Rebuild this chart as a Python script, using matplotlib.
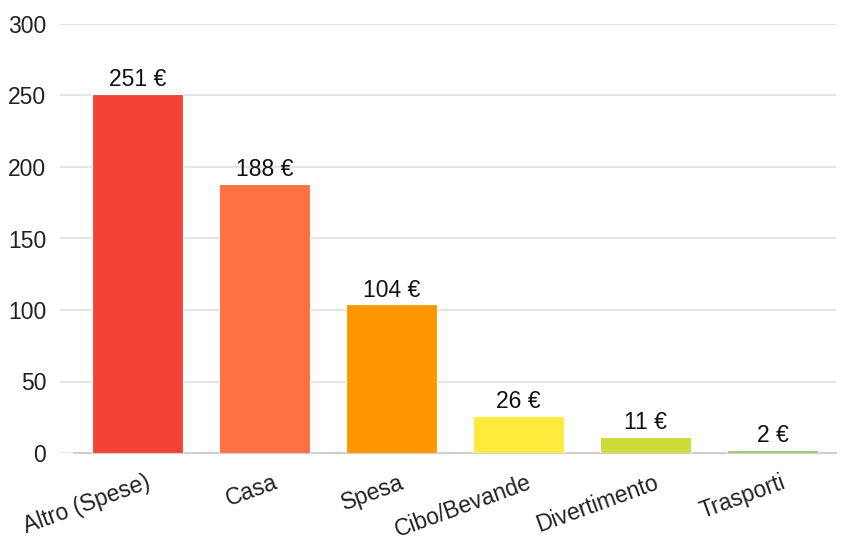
import matplotlib
matplotlib.use("Agg")
import matplotlib.pyplot as plt
from matplotlib.transforms import ScaledTranslation

categories = ["Altro (Spese)", "Casa", "Spesa", "Cibo/Bevande", "Divertimento", "Trasporti"]
values = [251, 188, 104, 26, 11, 2]
colors = ["#F44336", "#FF7043", "#FF9800", "#FFEB3B", "#CDDC39", "#9CCC65"]
yticks = [0, 50, 100, 150, 200, 250, 300]

plt.rcParams["font.family"] = ["Liberation Sans", "DejaVu Sans"]

fig = plt.figure(figsize=(8.43, 5.45), dpi=100)
ax = fig.add_axes([60 / 843, 1 - 453 / 545, 776 / 843, 429 / 545])

x = list(range(len(categories)))
ax.bar(x, values, width=0.72, color=colors, edgecolor="#ffffff", linewidth=0.8, zorder=3)

for xi, v in zip(x, values):
    ax.annotate(f"{v} €", (xi, v), xytext=(0, 2), textcoords="offset points",
                ha="center", va="bottom", fontsize=16.5, color="#111111", zorder=4)

ax.set_ylim(0, 300)
ax.set_xlim(-0.61, 5.5)
ax.set_yticks(yticks)
ax.yaxis.grid(True, color="#e3e3e3", linewidth=1.3, zorder=0)
ax.set_axisbelow(True)
for s in ["top", "right", "left"]:
    ax.spines[s].set_visible(False)
ax.spines["bottom"].set_color("#cccccc")
ax.spines["bottom"].set_linewidth(1.3)
ax.spines["bottom"].set_bounds(-0.5, 5.5)

ax.tick_params(axis="y", length=0, pad=10, labelsize=16.5, labelcolor="#222222")
ax.tick_params(axis="x", length=0, pad=13)
ax.set_xticks(x)
ax.set_xticklabels(categories, rotation=20, ha="right", rotation_mode="anchor",
                   fontsize=16.5, color="#222222")
shift = ScaledTranslation(8 / 100, 0, fig.dpi_scale_trans)
for lbl in ax.get_xticklabels():
    lbl.set_transform(lbl.get_transform() + shift)

fig.savefig("out.png", dpi=100)
